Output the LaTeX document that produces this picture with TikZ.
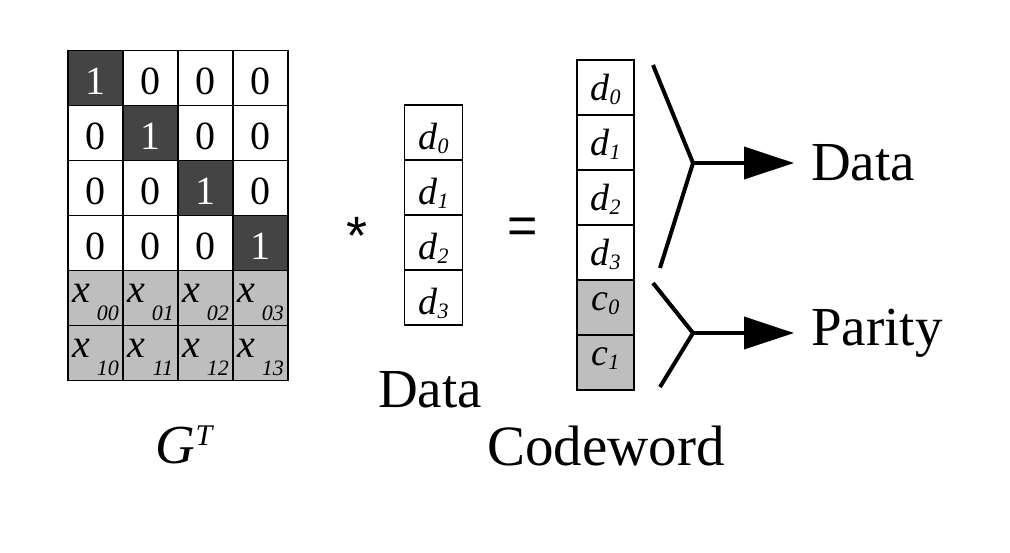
\documentclass[tikz,border=0pt]{standalone}
\usepackage{fontspec}
\setmainfont{Liberation Serif}
\setsansfont{Liberation Sans}
\usepackage{tikz}
\usetikzlibrary{arrows.meta}
\definecolor{dark}{RGB}{68,68,68}
\definecolor{parity}{RGB}{190,190,190}
\newcommand{\xsub}[1]{\textit{x}\hspace{7pt}\raisebox{-18pt}{\fontsize{22}{22}\selectfont\itshape #1}}
\newcommand{\vsub}[2]{\textit{#1}\raisebox{-4pt}{\fontsize{22}{22}\selectfont\itshape #2}}

\begin{document}
\begin{tikzpicture}[x=1pt,y=-1pt,>={Triangle[length=50pt,width=32pt]},node distance=55pt,
    cell/.style={draw,line width=1.6pt,minimum width=55pt,minimum height=55pt,inner sep=0pt,
      font=\fontsize{40}{40}\selectfont,text height=32pt,text depth=0pt},
    one/.style={cell,fill=dark,text=white},
    xcell/.style={cell,fill=parity,text height=20pt,text depth=12pt},
    vin/.style={cell,minimum width=58pt,font=\fontsize{38}{38}\selectfont,text height=34pt},
    vout/.style={vin,minimum width=57pt,text height=25pt},
    cout/.style={vout,fill=parity,text height=20pt,text depth=14pt},
    capt/.style={font=\fontsize{55}{55}\selectfont},
    brace/.style={line width=4pt}]
    \useasboundingbox (0,0) rectangle (1010,552);

    % G^T
    \node[one] (g11) at (95.5,78) {1};
    \node[cell,right of=g11] (g12) {0};
    \node[cell,right of=g12] (g13) {0};
    \node[cell,right of=g13] (g14) {0};
    \node[cell,below of=g11] (g21) {0};
    \node[one,right of=g21] (g22) {1};
    \node[cell,right of=g22] (g23) {0};
    \node[cell,right of=g23] (g24) {0};
    \node[cell,below of=g21] (g31) {0};
    \node[cell,right of=g31] (g32) {0};
    \node[one,right of=g32] (g33) {1};
    \node[cell,right of=g33] (g34) {0};
    \node[cell,below of=g31] (g41) {0};
    \node[cell,right of=g41] (g42) {0};
    \node[cell,right of=g42] (g43) {0};
    \node[one,right of=g43] (g44) {1};
    \node[xcell,below of=g41] (g51) {\xsub{00}};
    \node[xcell,right of=g51] (g52) {\xsub{01}};
    \node[xcell,right of=g52] (g53) {\xsub{02}};
    \node[xcell,right of=g53] (g54) {\xsub{03}};
    \node[xcell,below of=g51] (g61) {\xsub{10}};
    \node[xcell,right of=g61] (g62) {\xsub{11}};
    \node[xcell,right of=g62] (g63) {\xsub{12}};
    \node[xcell,right of=g63] (g64) {\xsub{13}};
    \node[capt,anchor=base] (gt) at (184,463) {\textit{G}\raisebox{18pt}{\fontsize{30}{30}\selectfont\itshape T}};

    \node[font=\sffamily\fontsize{54}{54}\selectfont,anchor=base] (times) at (357,254) {*};

    % data vector
    \node[vin] (d0) at (433.5,132.5) {\vsub{d}{0}};
    \node[vin,below of=d0] (d1) {\vsub{d}{1}};
    \node[vin,below of=d1] (d2) {\vsub{d}{2}};
    \node[vin,below of=d2] (d3) {\vsub{d}{3}};
    \node[capt,anchor=base] (din) at (430,407) {Data};

    \node[font=\sffamily\fontsize{52}{52}\selectfont,anchor=base] (eq) at (522.5,243) {=};

    % codeword
    \node[vout] (cw0) at (605.5,87.5) {\vsub{d}{0}};
    \node[vout,below of=cw0] (cw1) {\vsub{d}{1}};
    \node[vout,below of=cw1] (cw2) {\vsub{d}{2}};
    \node[vout,below of=cw2] (cw3) {\vsub{d}{3}};
    \node[cout,below of=cw3] (cw4) {\vsub{c}{0}};
    \node[cout,below of=cw4] (cw5) {\vsub{c}{1}};
    \node[capt,font=\fontsize{57}{57}\selectfont,anchor=base] (cwl) at (606,465) {Codeword};

    % split into data and parity
    \coordinate (t1) at (653,65);
    \coordinate (v1) at (693,163);
    \coordinate (b1) at (660,268);
    \coordinate (t2) at (653,283);
    \coordinate (v2) at (693,333);
    \coordinate (b2) at (660,387);
    \node[capt,anchor=west,inner xsep=17pt] (dout) at (794,163) {Data};
    \node[capt,anchor=west,inner xsep=17pt] (pout) at (794,333) {Parity};

    \draw[brace] (t1) -- (v1) -- (b1);
    \draw[brace,->] (v1) -- (dout);
    \draw[brace] (t2) -- (v2) -- (b2);
    \draw[brace,->] (v2) -- (pout);
\end{tikzpicture}
\end{document}
